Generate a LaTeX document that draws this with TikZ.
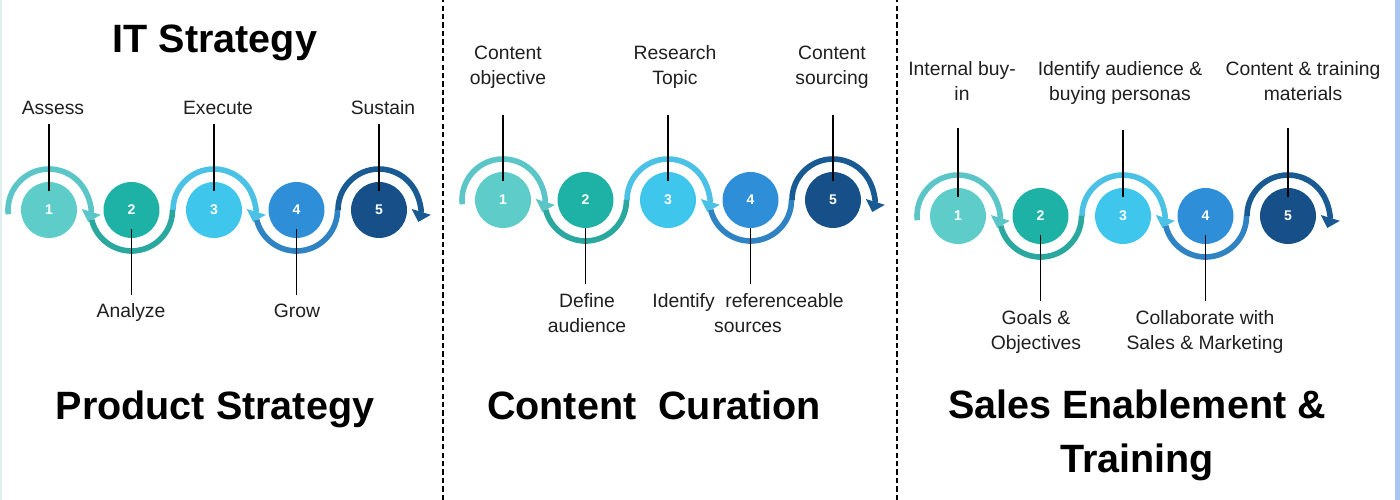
\documentclass[tikz,border=0pt]{standalone}
\usepackage{fontspec}
\setmainfont{Liberation Sans}
\usetikzlibrary{arrows.meta}

\definecolor{disc1}{HTML}{5ECDC9}
\definecolor{disc2}{HTML}{1EB1A6}
\definecolor{disc3}{HTML}{3EC6ED}
\definecolor{disc4}{HTML}{2E8ED7}
\definecolor{disc5}{HTML}{174F88}
\definecolor{ring1}{HTML}{5CC5C8}
\definecolor{ring2}{HTML}{2AA79E}
\definecolor{ring3}{HTML}{4BC2E5}
\definecolor{ring4}{HTML}{2F83C3}
\definecolor{ring5}{HTML}{1A5A92}
\definecolor{edgeblue}{HTML}{A9C5F0}
\definecolor{edgemint}{HTML}{DDEFEF}

\begin{document}
\begin{tikzpicture}[x=0.02cm, y=0.02cm,
    numdisc/.style={circle, minimum size=1.12cm, inner sep=0pt, text=white,
        font=\fontsize{8}{8}\selectfont\bfseries},
    ring/.style={line width=3.2pt},
    tip/.style={-{Triangle[width=11pt,length=6pt]}},
    steptext/.style={inner sep=0pt, align=center, anchor=base, text=black!88,
        font=\fontsize{11}{14.7}\selectfont},
    headtext/.style={inner sep=0pt, align=center, anchor=base,
        font=\fontsize{22.5}{31}\selectfont\bfseries},
    leader/.style={line width=1.1pt, shorten <=5pt, shorten >=-5.5pt},
    divider/.style={line width=1.3pt, dash pattern=on 3pt off 1.8pt}]

        \useasboundingbox (0,0) rectangle (1400,500);
        % page edges
        \fill[edgemint] (0,0) rectangle (2,500);
        \fill[edgeblue] (1395,0) rectangle (1400,500);
        % dashed separators between the three panels
        \draw[divider] (443,0) -- (443,500);
        \draw[divider] (897,0) -- (897,500);

        % five discs and the winding arrow in every panel
        \foreach \p/\x/\y in {a/49/290, b/503/300, c/958/284} {
            \foreach \i in {1,...,5}
                \node[numdisc, fill=disc\i] (\p\i) at ({\x+82.5*(\i-1)}, \y) {\i};
            \foreach \i/\s in {1/186, 3/180, 5/180}
                \draw[ring, tip, draw=ring\i] (\p\i.center) ++(\s:41)
                    arc[start angle=\s, end angle=-17, radius=41];
            \foreach \i in {2,4}
                \draw[ring, draw=ring\i] (\p\i.center) ++(194:41)
                    arc[start angle=194, end angle=360, radius=41];
        }

        % IT strategy / product strategy
        \node[headtext] (ta) at (215,447) {IT Strategy};
        \node[headtext] (tb) at (215,80) {Product Strategy};
        \node[steptext] (la1) at (53,385) {Assess};
        \node[steptext] (la3) at (218,385) {Execute};
        \node[steptext] (la5) at (383,385) {Sustain};
        \node[steptext] (la2) at (131,182) {Analyze};
        \node[steptext] (la4) at (297,182) {Grow};
        \draw[leader] (la1.south -| a1) -- (a1);
        \draw[leader] (la3.south -| a3) -- (a3);
        \draw[leader] (la5.south -| a5) -- (a5);
        \draw[leader] (la2.north -| a2) -- (a2);
        \draw[leader] (la4.north -| a4) -- (a4);

        % content curation
        \node[headtext] (tc) at (654,80) {Content\ \ Curation};
        \node[steptext] (lb1) at (508,415) {Content\\objective};
        \node[steptext] (lb3) at (675,415) {Research\\Topic};
        \node[steptext] (lb5) at (832,415) {Content\\sourcing};
        \node[steptext] (lb2) at (587,167) {Define\\audience};
        \node[steptext] (lb4) at (748,167) {Identify\ \ referenceable\\sources};
        \draw[leader, shorten <=14.7pt] (lb1.south -| b1) -- (b1);
        \draw[leader, shorten <=14.7pt] (lb3.south -| b3) -- (b3);
        \draw[leader, shorten <=14.7pt] (lb5.south -| b5) -- (b5);
        \draw[leader, shorten >=0pt] (lb2.north -| b2) -- (b2);
        \draw[leader, shorten >=0pt] (lb4.north -| b4) -- (b4);

        % sales enablement
        \node[headtext] (td) at (1137,27) {Sales Enablement \&\\Training};
        \node[steptext] (lc1) at (962,399) {Internal buy-\\in};
        \node[steptext] (lc3) at (1120,399) {Identify audience \&\\buying personas};
        \node[steptext] (lc5) at (1303,399) {Content \& training\\materials};
        \node[steptext] (lc2) at (1036,150) {Goals \&\\Objectives};
        \node[steptext] (lc4) at (1205,150) {Collaborate with\\Sales \& Marketing};
        \draw[leader, shorten <=15pt] (lc1.south -| c1) -- (c1);
        \draw[leader, shorten <=14pt] (lc3.south -| c3) -- (c3);
        \draw[leader, shorten <=15pt] (lc5.south -| c5) -- (c5);
        \draw[leader] (lc2.north -| c2) -- (c2);
        \draw[leader] (lc4.north -| c4) -- (c4);
\end{tikzpicture}
\end{document}
